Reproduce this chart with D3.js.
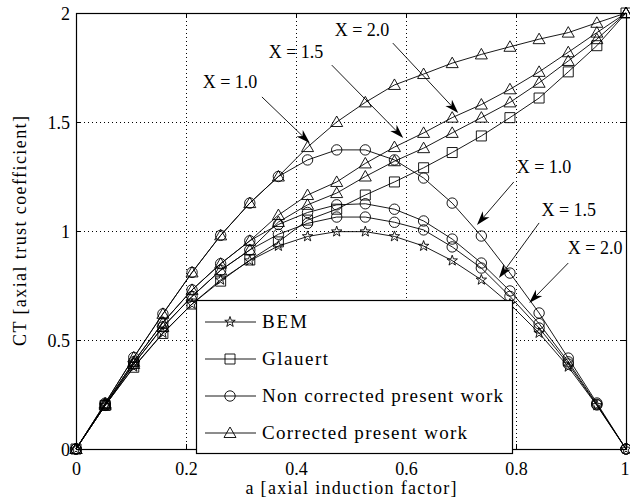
<!DOCTYPE html>
<html><head>
<meta charset="utf-8">
<title>CT vs axial induction factor</title>
<script src="https://d3js.org/d3.v7.min.js"></script>
<style>
  body { margin: 0; background: #fff; }
  text { font-family: "Liberation Serif", "Times New Roman", serif; fill: #000; }
</style>
</head>
<body>
<svg id="chart" width="630" height="499"></svg>
<script>
// sample points of the axial induction factor
const aValues = [0, 0.053, 0.105, 0.158, 0.211, 0.263, 0.316, 0.368, 0.421, 0.474,
                 0.526, 0.579, 0.632, 0.684, 0.737, 0.789, 0.842, 0.895, 0.947, 1];

const bem = [0, 0.2, 0.377, 0.532, 0.665, 0.776, 0.864, 0.931, 0.975, 0.997,
             0.997, 0.975, 0.931, 0.864, 0.776, 0.665, 0.532, 0.377, 0.2, 0];
const glauert = [0, 0.2, 0.375, 0.53, 0.665, 0.77, 0.867, 0.95, 1.05, 1.1,
                 1.165, 1.225, 1.29, 1.36, 1.436, 1.52, 1.61, 1.73, 1.85, 2.0];
const nonCorrX10 = [0, 0.21, 0.42, 0.62, 0.81, 0.98, 1.128, 1.25, 1.326, 1.372,
                    1.372, 1.326, 1.243, 1.128, 0.977, 0.807, 0.624, 0.417, 0.211, 0];
const nonCorrX15 = [0, 0.205, 0.4, 0.58, 0.73, 0.85, 0.955, 1.03, 1.085, 1.12,
                    1.125, 1.1, 1.046, 0.963, 0.853, 0.725, 0.575, 0.4, 0.205, 0];
const nonCorrX20 = [0, 0.2, 0.39, 0.56, 0.7, 0.82, 0.913, 0.985, 1.035, 1.064,
                    1.064, 1.04, 1.005, 0.927, 0.83, 0.7, 0.555, 0.39, 0.202, 0];
const corrX10 = [0, 0.21, 0.42, 0.62, 0.81, 0.98, 1.128, 1.25, 1.385, 1.5,
                 1.59, 1.67, 1.72, 1.77, 1.81, 1.845, 1.88, 1.91, 1.955, 2.0];
const corrX15 = [0, 0.205, 0.4, 0.58, 0.73, 0.85, 0.955, 1.073, 1.165, 1.225,
                 1.31, 1.385, 1.45, 1.52, 1.58, 1.65, 1.73, 1.82, 1.91, 2.0];
const corrX20 = [0, 0.2, 0.39, 0.56, 0.7, 0.82, 0.913, 1.041, 1.12, 1.174,
                 1.25, 1.32, 1.38, 1.45, 1.52, 1.59, 1.68, 1.78, 1.88, 2.0];

const xTicks = [0, 0.2, 0.4, 0.6, 0.8, 1];
const xTickLabels = ["0", "0.2", "0.4", "0.6", "0.8", "1"];
const yTicks = [0, 0.5, 1, 1.5, 2];
const yTickLabels = ["0", "0.5", "1", "1.5", "2"];

const legendNames = ["BEM", "Glauert", "Non corrected present work", "Corrected present work"];
const legendMarkers = ["star", "square", "circle", "triangle"];
const legendWidths = [45, 66, 241, 205];

// annotation: label, text position, arrow start, arrow tip (data units)
const noteLabels = ["X = 1.0", "X = 1.5", "X = 2.0", "X = 1.0", "X = 1.5", "X = 2.0"];
const noteText = [[0.28, 1.683], [0.40, 1.821], [0.52, 1.922], [0.851, 1.294], [0.896, 1.096], [0.944, 0.922]];
const noteFrom = [[0.338, 1.615], [0.465, 1.761], [0.576, 1.862], [0.796, 1.225], [0.842, 1.037], [0.895, 0.853]];
const noteTo = [[0.425, 1.404], [0.595, 1.427], [0.695, 1.541], [0.729, 1.028], [0.769, 0.784], [0.824, 0.67]];

let svg = d3.select("svg#chart");
let width = +svg.attr("width");
let height = +svg.attr("height");
let margin = {"top": 13, "right": 4, "bottom": 50, "left": 76};
let chartWidth = width - margin.left - margin.right;
let chartHeight = height - margin.top - margin.bottom;

let xScale = d3.scaleLinear().domain([0, 1]).range([0, chartWidth]);
let yScale = d3.scaleLinear().domain([0, 2]).range([chartHeight, 0]);

let chart = svg.append("g")
    .attr("transform", "translate(" + margin.left + "," + margin.top + ")");

// dotted grid
chart.append("g").selectAll("line")
    .data(xTicks.slice(1, -1))
    .join("line")
    .attr("x1", d => Math.round(xScale(d)) + 0.5).attr("x2", d => Math.round(xScale(d)) + 0.5)
    .attr("y1", 0).attr("y2", chartHeight)
    .attr("stroke", "#000").attr("stroke-dasharray", "1,3");
chart.append("g").selectAll("line")
    .data(yTicks.slice(1, -1))
    .join("line")
    .attr("y1", d => Math.round(yScale(d)) + 0.5).attr("y2", d => Math.round(yScale(d)) + 0.5)
    .attr("x1", 0).attr("x2", chartWidth)
    .attr("stroke", "#000").attr("stroke-dasharray", "1,3");

// marker shapes
function markerPath(type) {
    if (type === "circle") return d3.symbol(d3.symbolCircle, Math.PI * 5.2 * 5.2)();
    if (type === "square") return "M-5,-5H5V5H-5Z";
    if (type === "triangle") return "M0,-6L6,4.5H-6Z";
    // five pointed star
    let pts = [];
    for (let k = 0; k < 10; k++) {
        let r = k % 2 === 0 ? 5.5 : 2.2;
        let ang = -Math.PI / 2 + k * Math.PI / 5;
        pts.push([r * Math.cos(ang), r * Math.sin(ang)]);
    }
    return "M" + pts.map(p => p[0].toFixed(2) + "," + p[1].toFixed(2)).join("L") + "Z";
}

let seriesList = [
    {values: bem, marker: "star"},
    {values: glauert, marker: "square"},
    {values: nonCorrX10, marker: "circle"},
    {values: nonCorrX15, marker: "circle"},
    {values: nonCorrX20, marker: "circle"},
    {values: corrX10, marker: "triangle"},
    {values: corrX15, marker: "triangle"},
    {values: corrX20, marker: "triangle"}
];

let line = d3.line()
    .x((d, i) => xScale(aValues[i]))
    .y(d => yScale(d));

seriesList.forEach(s => {
    chart.append("path")
        .datum(s.values)
        .attr("d", line)
        .attr("fill", "none")
        .attr("stroke", "#000")
        .attr("stroke-width", 0.9);
    chart.append("g").selectAll("path")
        .data(s.values)
        .join("path")
        .attr("transform", (d, i) => "translate(" + xScale(aValues[i]) + "," + yScale(d) + ")")
        .attr("d", markerPath(s.marker))
        .attr("fill", "none")
        .attr("stroke", "#000")
        .attr("stroke-width", 0.9);
});

// axes box with inward ticks on all sides
let xAxis = d3.axisBottom(xScale).tickValues(xTicks).tickSize(0).tickFormat((d, i) => xTickLabels[i]).tickPadding(13);
let yAxis = d3.axisLeft(yScale).tickValues(yTicks).tickSize(0).tickFormat((d, i) => yTickLabels[i]).tickPadding(6);

let gx = chart.append("g").attr("transform", "translate(0," + chartHeight + ")").call(xAxis);
let gy = chart.append("g").call(yAxis);
[gx, gy].forEach(g => {
    g.select(".domain").remove();
    g.selectAll("text").style("font-family", "Liberation Serif").style("font-size", "18px");
});
gy.selectAll("text").attr("dy", "0.34em");
// the last x label sits on the right edge as in the original
gx.selectAll("text").filter((d, i) => i === xTicks.length - 1).attr("text-anchor", "end").attr("dx", "3px");

let tickG = chart.append("g").attr("stroke", "#000");
xTicks.forEach(t => {
    let x = Math.round(xScale(t)) + 0.5;
    tickG.append("line").attr("x1", x).attr("x2", x).attr("y1", chartHeight).attr("y2", chartHeight - 5);
    tickG.append("line").attr("x1", x).attr("x2", x).attr("y1", 0).attr("y2", 5);
});
yTicks.forEach(t => {
    let y = Math.round(yScale(t)) + 0.5;
    tickG.append("line").attr("x1", 0).attr("x2", 5).attr("y1", y).attr("y2", y);
    tickG.append("line").attr("x1", chartWidth).attr("x2", chartWidth - 5).attr("y1", y).attr("y2", y);
});

chart.append("rect")
    .attr("x", 0.5).attr("y", 0.5)
    .attr("width", chartWidth).attr("height", chartHeight)
    .attr("fill", "none").attr("stroke", "#000").attr("stroke-width", 1.2);

// axis titles
svg.append("text")
    .attr("x", margin.left + chartWidth / 2)
    .attr("y", 494)
    .attr("text-anchor", "middle")
    .attr("textLength", 211).attr("lengthAdjust", "spacing")
    .style("font-size", "18px")
    .text("a [axial induction factor]");
svg.append("text")
    .attr("transform", "translate(26," + (margin.top + chartHeight / 2) + ") rotate(-90)")
    .attr("text-anchor", "middle")
    .attr("textLength", 230).attr("lengthAdjust", "spacing")
    .style("font-size", "18px")
    .text("CT [axial trust coefficient]");

// legend
let legend = svg.append("g").attr("transform", "translate(196,300)");
legend.append("rect")
    .attr("x", 0.5).attr("y", 0.5).attr("width", 316).attr("height", 153)
    .attr("fill", "#fff").attr("stroke", "#000").attr("stroke-width", 1.2);
let legendY = d3.scaleLinear().domain([0, 3]).range([22, 133]);
legendNames.forEach((name, i) => {
    let y = legendY(i);
    legend.append("line").attr("x1", 9).attr("x2", 60).attr("y1", y).attr("y2", y)
        .attr("stroke", "#000").attr("stroke-width", 0.9);
    legend.append("path").attr("transform", "translate(34," + y + ")")
        .attr("d", markerPath(legendMarkers[i]))
        .attr("fill", "none").attr("stroke", "#000").attr("stroke-width", 0.9);
    legend.append("text").attr("x", 66).attr("y", y).attr("dy", "0.34em")
        .attr("textLength", legendWidths[i]).attr("lengthAdjust", "spacing")
        .style("font-size", "19px").text(name);
});

// annotations with arrows
let notes = chart.append("g");
noteLabels.forEach((lab, i) => {
    let x0 = xScale(noteFrom[i][0]), y0 = yScale(noteFrom[i][1]);
    let x1 = xScale(noteTo[i][0]), y1 = yScale(noteTo[i][1]);
    let ang = Math.atan2(y1 - y0, x1 - x0);
    let headLen = 14, headW = 4.5;
    let bx = x1 - headLen * Math.cos(ang), by = y1 - headLen * Math.sin(ang);
    let nx = x1 - (headLen - 4) * Math.cos(ang), ny = y1 - (headLen - 4) * Math.sin(ang);
    let px = -Math.sin(ang) * headW, py = Math.cos(ang) * headW;
    notes.append("line").attr("x1", x0).attr("y1", y0).attr("x2", nx).attr("y2", ny)
        .attr("stroke", "#000").attr("stroke-width", 0.9);
    notes.append("path")
        .attr("d", "M" + x1 + "," + y1 + "L" + (bx + px) + "," + (by + py) + "L" + nx + "," + ny +
                   "L" + (bx - px) + "," + (by - py) + "Z")
        .attr("fill", "#000");
    notes.append("text")
        .attr("x", xScale(noteText[i][0])).attr("y", yScale(noteText[i][1]))
        .attr("dy", "0.34em").attr("text-anchor", "middle")
        .style("font-size", "18px").text(lab);
});
</script>
</body>
</html>
